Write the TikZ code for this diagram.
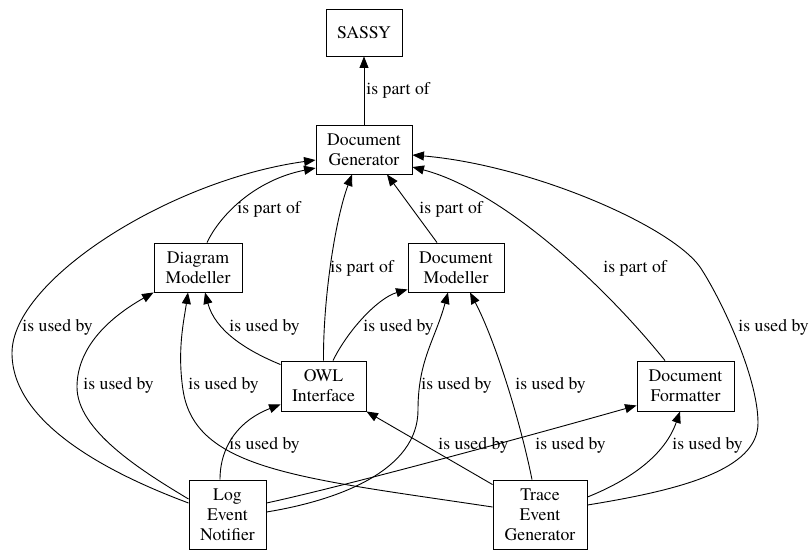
\documentclass[tikz,border=0pt]{standalone}
\usepackage{fontspec}
\IfFontExistsTF{texgyretermes-regular.otf}
  {\setmainfont{texgyretermes-regular.otf}}
  {\setmainfont{Liberation Serif}}
\usetikzlibrary{arrows.meta}
\begin{document}
\begin{tikzpicture}[x=1pt,y=1pt,
  box/.style={draw, line width=0.9pt, inner sep=0pt, align=center,
    font=\fontsize{17.7}{20}\selectfont},
  rel/.style={line width=0.9pt, -{Triangle[length=11.5pt,width=9pt]}},
  lbl/.style={anchor=west, inner sep=0pt, font=\fontsize{17.7}{20}\selectfont}]
\useasboundingbox (0,0) rectangle (810,-550);

% components
\node[box, minimum width=76pt, minimum height=47pt] (sassy)  at (364,-32.5)   {SASSY};
\node[box, minimum width=96pt, minimum height=49pt] (docgen) at (364,-149.5)  {Document\\Generator};
\node[box, minimum width=88pt, minimum height=49pt] (dm)     at (198,-267.5)  {Diagram\\Modeller};
\node[box, minimum width=96pt, minimum height=49pt] (docmod) at (456,-267.5)  {Document\\Modeller};
\node[box, minimum width=85pt, minimum height=50pt] (owl)    at (323.5,-386)  {OWL\\Interface};
\node[box, minimum width=97pt, minimum height=50pt] (docfmt) at (685.5,-386)  {Document\\Formatter};
\node[box, minimum width=77pt, minimum height=69pt] (len)    at (227.5,-514.5) {Log\\Event\\Notifier};
\node[box, minimum width=94pt, minimum height=69pt] (teg)    at (540,-514.5)  {Trace\\Event\\Generator};

% part-of relations
\draw[rel] (docgen.north) -- (sassy.south)
  node[lbl] at (366,-90) {is part of};
\draw[rel] ([xshift=9pt]dm.north) .. controls (220,-215) and (255,-180) .. ([yshift=-18.5pt]docgen.west)
  node[lbl] at (237,-209) {is part of};
\draw[rel] (owl.north) .. controls (323,-300) and (335,-220) .. ([xshift=-12pt]docgen.south)
  node[lbl] at (330,-268) {is part of};
\draw[rel] ([xshift=-19pt]docmod.north) -- ([xshift=23pt]docgen.south)
  node[lbl] at (419,-209) {is part of};
\draw[rel] ([xshift=-20.5pt]docfmt.north) .. controls (600,-280) and (500,-190) .. ([yshift=-17.5pt]docgen.east)
  node[lbl] at (603,-268) {is part of};

% used-by relations
\draw[rel] ([yshift=11.5pt]len.west) .. controls (100,-470) and (12,-420) .. (12,-353)
  .. controls (12,-280) and (170,-180) .. ([yshift=-10.5pt]docgen.west)
  node[lbl] at (22,-327) {is used by};
\draw[rel] ([yshift=9.5pt]teg.east) .. controls (680,-490) and (758,-470) .. (758,-423)
  .. controls (758,-376) and (720,-297) .. (700,-267)
  .. controls (670,-225) and (530,-165) .. ([yshift=-5.5pt]docgen.east)
  node[lbl] at (738,-327) {is used by};
\draw[rel] ([yshift=15.5pt]len.west) .. controls (140,-470) and (77,-430) .. (77,-387)
  .. controls (77,-350) and (105,-320) .. (dm.south west)
  node[lbl] at (83,-385) {is used by};
\draw[rel] ([yshift=7.5pt]teg.west) .. controls (300,-478) and (195,-470) .. (183,-390)
  .. controls (177,-350) and (184,-320) .. ([xshift=-10pt]dm.south)
  node[lbl] at (188,-385) {is used by};
\draw[rel] ([yshift=-4pt]owl.north west) .. controls (245,-350) and (215,-330) .. ([xshift=7pt]dm.south)
  node[lbl] at (229,-327) {is used by};
\draw[rel] ([xshift=9.5pt]owl.north) .. controls (348,-330) and (378,-298) .. ([yshift=3pt]docmod.south west)
  node[lbl] at (363,-327) {is used by};
\draw[rel] ([xshift=-7.5pt]len.north) .. controls (220,-445) and (240,-420) .. ([yshift=7pt]owl.south west)
  node[lbl] at (229,-445) {is used by};
\draw[rel] ([yshift=-5pt]teg.north west) -- (owl.south east)
  node[lbl] at (438,-445) {is used by};
\draw[rel] ([yshift=2.5pt]len.east) .. controls (340,-500) and (418,-470) .. (418,-410)
  .. controls (418,-360) and (435,-340) .. ([xshift=-8pt]docmod.south)
  node[lbl] at (421,-385) {is used by};
\draw[rel] ([xshift=-8pt]teg.north) .. controls (520,-420) and (495,-340) .. ([xshift=14pt]docmod.south)
  node[lbl] at (515,-385) {is used by};
\draw[rel] ([yshift=11.5pt]len.east) .. controls (350,-485) and (550,-430) .. ([yshift=6pt]docfmt.south west)
  node[lbl] at (535,-445) {is used by};
\draw[rel] ([yshift=17.5pt]teg.east) .. controls (630,-480) and (665,-455) .. ([xshift=-5.5pt]docfmt.south)
  node[lbl] at (672,-445) {is used by};
\end{tikzpicture}
\end{document}
